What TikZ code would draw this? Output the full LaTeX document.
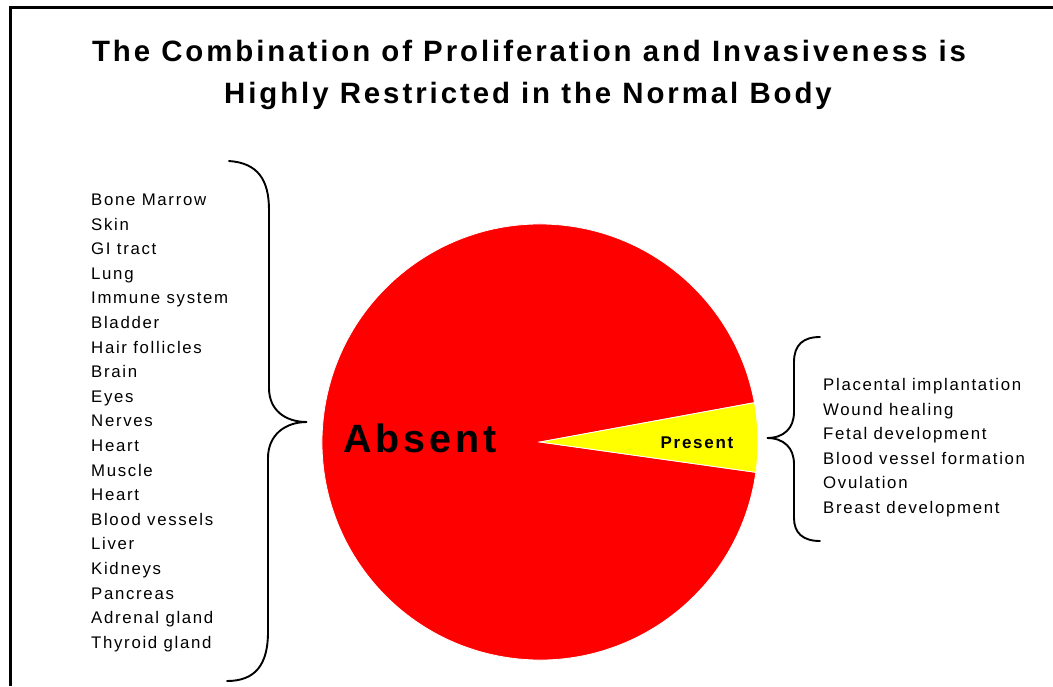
\documentclass[tikz,border=0pt]{standalone}
\usepackage{fontspec}
\setmainfont{Liberation Sans}[LetterSpace=10]
\usetikzlibrary{positioning}

\definecolor{pired}{RGB}{255,0,0}
\definecolor{piyellow}{RGB}{255,255,0}

\tikzset{
    listitem/.style={anchor=base west, inner sep=0pt, font=\fontsize{16.8}{18}\selectfont},
    heading/.style={anchor=base, inner sep=0pt, font=\fontsize{29.4}{34}\bfseries},
    brace/.style={line width=1.9pt, line cap=round}
}

\begin{document}
\begin{tikzpicture}[x=1pt,y=-1pt]
    \useasboundingbox (0,0) rectangle (1053,686);
    \draw[line width=3pt] (1053,7) -- (10,7) -- (10,686);  % frame

    % Title
    \node[heading] (title1) at (529,61) {The Combination of Proliferation and Invasiveness is};
    \node[heading] (title2) at (528,103) {Highly Restricted in the Normal Body};

    % Pie
    \coordinate (c) at (540,442);
    \fill[pired, draw=white, line width=0.8pt] (c) -- ++(8:218) arc[start angle=8, end angle=349.6, radius=218] -- cycle;
    \fill[piyellow, draw=white, line width=0.8pt] (c) -- ++(-10.4:218) arc[start angle=-10.4, end angle=8, radius=218] -- cycle;

    \node[anchor=base west, inner sep=0pt, font=\fontsize{39.5}{44}\bfseries] (absent) at (343,452) {Absent};
    \node[anchor=base, inner sep=0pt, font=\fontsize{17}{20}\bfseries] (present) at (697,448) {Present};

    % Left list
    \foreach \organ [count=\i] in {Bone Marrow, Skin, GI tract, Lung, Immune system, Bladder,
        Hair follicles, Brain, Eyes, Nerves, Heart, Muscle, Heart, Blood vessels, Liver,
        Kidneys, Pancreas, Adrenal gland, Thyroid gland} {
        \node[listitem] (l\i) at ({91},{205.5+24.6*(\i-1)}) {\organ};
    }

    % Right list
    \foreach \event [count=\i] in {Placental implantation, Wound healing, Fetal development,
        Blood vessel formation, Ovulation, Breast development} {
        \node[listitem] (r\i) at ({823},{390.5+24.6*(\i-1)}) {\event};
    }

    % Braces
    \draw[brace] (229,161) .. controls (258,163) and (269,180) .. (269,210) -- (269,388)
        .. controls (269,410) and (285,422) .. (307,422)
        .. controls (285,422) and (268,435) .. (268,458) -- (268,632)
        .. controls (268,665) and (255,681) .. (227,681);
    \draw[brace] (820,337) .. controls (803,337) and (794,345) .. (794,362) -- (794,412)
        .. controls (794,428) and (784,438) .. (767,438)
        .. controls (784,438) and (794,448) .. (794,464) -- (794,518)
        .. controls (794,533) and (803,541) .. (820,541);
\end{tikzpicture}
\end{document}
